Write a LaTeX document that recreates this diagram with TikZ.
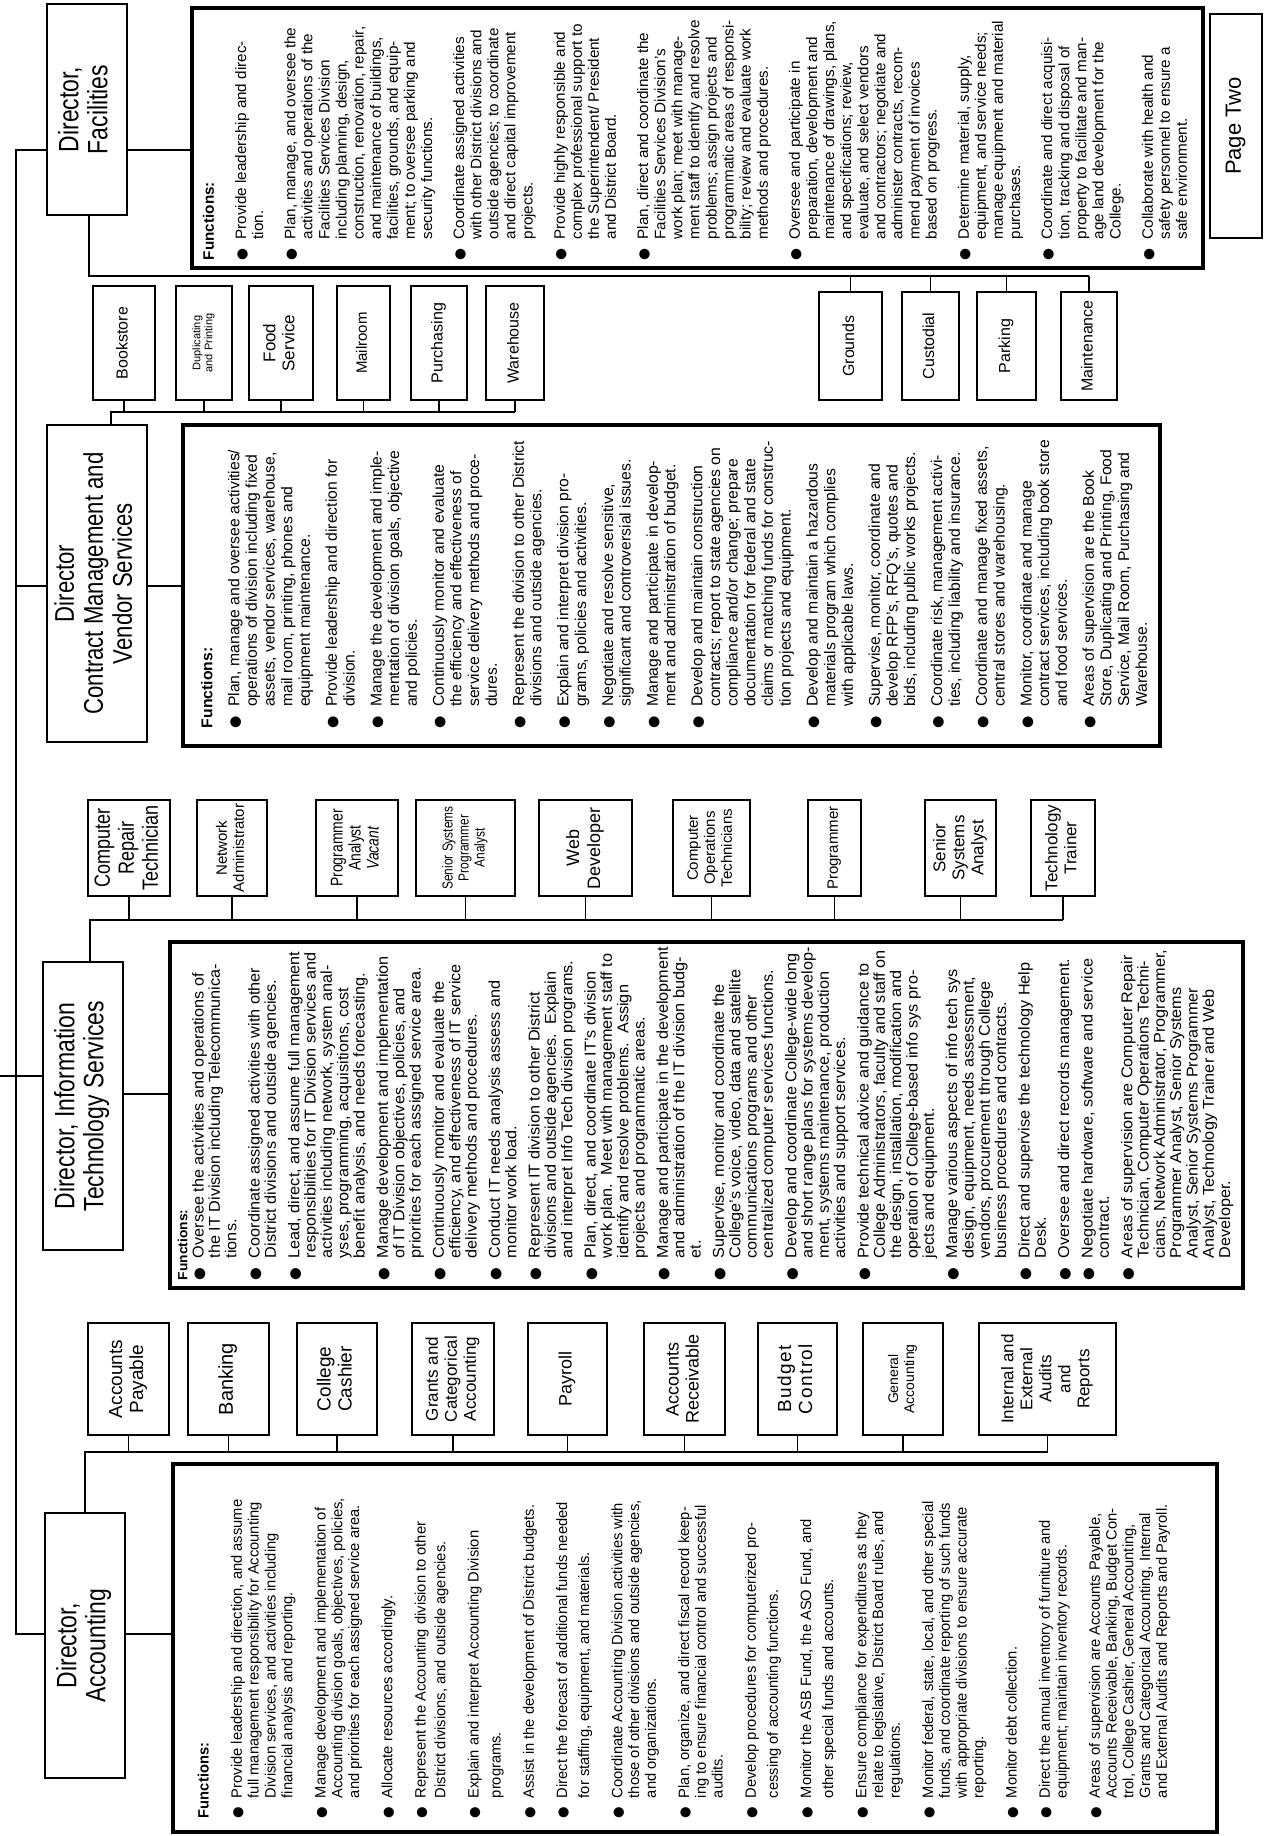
\documentclass[tikz,border=0pt]{standalone}
\usepackage{fontspec}
\usepackage{graphicx}
\setmainfont{Liberation Sans}
\newfontfamily\narrowf[FakeStretch=0.82]{Liberation Sans}
\newfontfamily\dejavu{DejaVu Sans}
\newlength\fgap
\newcommand\bul{{\dejavu\scalebox{0.9}{●}}}
\newcommand\fitem[1]{\makebox[1.35em][l]{\bul}\begin{tabular}[t]{@{}l@{}}#1\end{tabular}}
\newcommand\ig{\\\noalign{\vskip\fgap}}
\newcommand\fblock[6]{\rotatebox{90}{\resizebox*{#1}{#2}{\fontsize{#3}{#4}\selectfont\setlength\fgap{#5}\begin{tabular}{@{}l@{}}#6\end{tabular}}}}
\newcommand\rt[3]{\rotatebox{90}{\fontsize{#1}{#2}\selectfont\begin{tabular}{@{}c@{}}#3\end{tabular}}}
\newcommand\rtn[3]{\rotatebox{90}{\narrowf\fontsize{#1}{#2}\selectfont\begin{tabular}{@{}c@{}}#3\end{tabular}}}
\newcommand\bx[7]{\node[#1, minimum width={(#4)-(#2)}, minimum height={(#5)-(#3)}] (#6) at ({((#2)+(#4))/2},{((#3)+(#5))/2}) {#7};}
\begin{document}
\begin{tikzpicture}[x=1pt,y=-1pt,
  dbox/.style={draw, line width=1.2pt, inner sep=0pt, align=center},
  fbox/.style={draw, line width=4pt, inner sep=0pt},
  conn/.style={line width=1.2pt}]
\fill[white] (0,0) rectangle (1265,1836);
\useasboundingbox (0,0) rectangle (1265,1836);

% ---------- Directors ----------
\bx{dbox}{47}{4}{127}{215}{dFac}{\rtn{28}{29}{Director,\\Facilities}}
\bx{dbox}{47}{425}{147}{742}{dCon}{\rtn{27}{29}{Director\\Contract Management and\\Vendor Services}}
\bx{dbox}{43}{962}{123}{1250}{dIT}{\rtn{28}{29}{Director, Information\\Technology Services}}
\bx{dbox}{45}{1513}{125}{1778}{dAcc}{\rtn{28}{29}{Director,\\Accounting}}

% ---------- Page Two ----------
\bx{dbox}{1210}{14}{1262}{238}{pTwo}{\rt{22}{24}{Page Two}}

% ---------- Function boxes ----------
\bx{fbox}{192}{8}{1203}{268}{fFac}{}
\bx{fbox}{183}{425}{1160}{746}{fCon}{}
\bx{fbox}{170}{942}{1243}{1288}{fIT}{}
\bx{fbox}{173}{1464}{1217}{1832}{fAcc}{}

% Facilities functions
\node[inner sep=0pt] (tFac) at ({(202+1192)/2},{(20+260)/2}) {\fblock{240pt}{990pt}{10}{11.3}{10pt}{%
\textbf{Functions:}\ig
\fitem{Provide leadership and direc-\\tion.}\ig
\fitem{Plan, manage, and oversee the\\activities and operations of the\\Facilities Services Division\\including planning, design,\\construction, renovation, repair,\\and maintenance of buildings,\\facilities, grounds, and equip-\\ment; to oversee parking and\\security functions.}\ig
\fitem{Coordinate assigned activities\\with other District divisions and\\outside agencies; to coordinate\\and direct capital improvement\\projects.}\ig
\fitem{Provide highly responsible and\\complex professional support to\\the Superintendent/ President\\and District Board.}\ig
\fitem{Plan, direct and coordinate the\\Facilities Services Division's\\work plan; meet with manage-\\ment staff to identify and resolve\\problems; assign projects and\\programmatic areas of responsi-\\bility; review and evaluate work\\methods and procedures.}\ig
\fitem{Oversee and participate in\\preparation, development and\\maintenance of drawings, plans,\\and specifications; review,\\evaluate, and select vendors\\and contractors; negotiate and\\administer contracts, recom-\\mend payment of invoices\\based on progress.}\ig
\fitem{Determine material, supply,\\equipment, and service needs;\\manage equipment and material\\purchases.}\ig
\fitem{Coordinate and direct acquisi-\\tion, tracking and disposal of\\property to facilitate and man-\\age land development for the\\College.}\ig
\fitem{Collaborate with health and\\safety personnel to ensure a\\safe environment.}}};

% Contract functions
\node[inner sep=0pt] (tCon) at ({(200+1152)/2},{(440+728)/2}) {\fblock{288pt}{952pt}{10}{11.3}{6pt}{%
\textbf{Functions:}\ig
\fitem{Plan, manage and oversee activities/\\operations of division including fixed\\assets, vendor services, warehouse,\\mail room, printing, phones and\\equipment maintenance.}\ig
\fitem{Provide leadership and direction for\\division.}\ig
\fitem{Manage the development and imple-\\mentation of division goals, objective\\and policies.}\ig
\fitem{Continuously monitor and evaluate\\the efficiency and effectiveness of\\service delivery methods and proce-\\dures.}\ig
\fitem{Represent the division to other District\\divisions and outside agencies.}\ig
\fitem{Explain and interpret division pro-\\grams, policies and activities.}\ig
\fitem{Negotiate and resolve sensitive,\\significant and controversial issues.}\ig
\fitem{Manage and participate in develop-\\ment and administration of budget.}\ig
\fitem{Develop and maintain construction\\contracts; report to state agencies on\\compliance and/or change; prepare\\documentation for federal and state\\claims or matching funds for construc-\\tion projects and equipment.}\ig
\fitem{Develop and maintain a hazardous\\materials program which complies\\with applicable laws.}\ig
\fitem{Supervise, monitor, coordinate and\\develop RFP's, RFQ's, quotes and\\bids, including public works projects.}\ig
\fitem{Coordinate risk, management activi-\\ties, including liability and insurance.}\ig
\fitem{Coordinate and manage fixed assets,\\central stores and warehousing.}\ig
\fitem{Monitor, coordinate and manage\\contract services, including book store\\and food services.}\ig
\fitem{Areas of supervision are the Book\\Store, Duplicating and Printing, Food\\Service, Mail Room, Purchasing and\\Warehouse.}}};

% IT functions
\node[inner sep=0pt] (tIT) at ({(176+1235)/2},{(947+1280)/2}) {\fblock{333pt}{1059pt}{10}{10.4}{4.5pt}{%
{\fontsize{8.5}{10}\selectfont\textbf{Functions:}}\\
\fitem{Oversee the activities and operations of\\the IT Division including Telecommunica-\\tions.}\ig
\fitem{Coordinate assigned activities with other\\District divisions and outside agencies.}\ig
\fitem{Lead, direct, and assume full management\\responsibilities for IT Division services and\\activities including network, system anal-\\yses, programming, acquisitions, cost\\benefit analysis, and needs forecasting.}\ig
\fitem{Manage development and implementation\\of IT Division objectives, policies, and\\priorities for each assigned service area.}\ig
\fitem{Continuously monitor and evaluate the\\efficiency, and effectiveness of IT service\\delivery methods and procedures.}\ig
\fitem{Conduct IT needs analysis assess and\\monitor work load.}\ig
\fitem{Represent IT division to other District\\divisions and outside agencies.\ \ Explain\\and interpret Info Tech division programs.}\ig
\fitem{Plan, direct, and coordinate IT's division\\work plan.\ \ Meet with management staff to\\identify and resolve problems.\ \ Assign\\projects and programmatic areas.}\ig
\fitem{Manage and participate in the development\\and administration of the IT division budg-\\et.}\ig
\fitem{Supervise, monitor and coordinate the\\College's voice, video, data and satellite\\communications programs and other\\centralized computer services functions.}\ig
\fitem{Develop and coordinate College-wide long\\and short range plans for systems develop-\\ment, systems maintenance, production\\activities and support services.}\ig
\fitem{Provide technical advice and guidance to\\College Administrators, faculty and staff on\\the design, installation, modification and\\operation of College-based info sys pro-\\jects and equipment.}\ig
\fitem{Manage various aspects of info tech sys\\design, equipment, needs assessment,\\vendors, procurement through College\\business procedures and contracts.}\ig
\fitem{Direct and supervise the technology Help\\Desk.}\ig
\fitem{Oversee and direct records management.}\ig
\fitem{Negotiate hardware, software and service\\contract.}\ig
\fitem{Areas of supervision are Computer Repair\\Technician, Computer Operations Techni-\\cians, Network Administrator, Programmer,\\Programmer Analyst, Senior Systems\\Analyst, Senior Systems Programmer\\Analyst, Technology Trainer and Web\\Developer.}}};

% Accounting functions
\node[inner sep=0pt] (tAcc) at ({(197+1172)/2},{(1498+1818)/2}) {\fblock{320pt}{975pt}{10}{11.2}{11pt}{%
\textbf{Functions:}\ig
\fitem{Provide leadership and direction, and assume\\full management responsibility for Accounting\\Division services, and activities including\\financial analysis and reporting.}\ig
\fitem{Manage development and implementation of\\Accounting division goals, objectives, policies,\\and priorities for each assigned service area.}\ig
\fitem{Allocate resources accordingly.}\ig
\fitem{Represent the Accounting division to other\\[2pt]District divisions, and outside agencies.}\ig
\fitem{Explain and interpret Accounting Division\\[3.5pt]programs.}\ig
\fitem{Assist in the development of District budgets.}\ig
\fitem{Direct the forecast of additional funds needed\\[3.5pt]for staffing, equipment, and materials.}\ig
\fitem{Coordinate Accounting Division activities with\\those of other divisions and outside agencies,\\and organizations.}\ig
\fitem{Plan, organize, and direct fiscal record keep-\\ing to ensure financial control and successful\\audits.}\ig
\fitem{Develop procedures for computerized pro-\\[3.5pt]cessing of accounting functions.}\ig
\fitem{Monitor the ASB Fund, the ASO Fund, and\\[3.5pt]other special funds and accounts.}\ig
\fitem{Ensure compliance for expenditures as they\\relate to legislative, District Board rules, and\\regulations.}\ig
\fitem{Monitor federal, state, local, and other special\\funds, and coordinate reporting of such funds\\with appropriate divisions to ensure accurate\\reporting.}\ig
\fitem{Monitor debt collection.}\ig
\fitem{Direct the annual inventory of furniture and\\equipment; maintain inventory records.}\ig
\fitem{Areas of supervision are Accounts Payable,\\Accounts Receivable, Banking, Budget Con-\\trol, College Cashier, General Accounting,\\Grants and Categorical Accounting, Internal\\and External Audits and Reports and Payroll.}}};

% ---------- Facilities sub-units ----------
\bx{dbox}{819}{292}{882}{400}{sGro}{\rt{16}{18}{Grounds}}
\bx{dbox}{902}{292}{959}{400}{sCus}{\rt{16}{18}{Custodial}}
\bx{dbox}{977}{292}{1036}{400}{sPar}{\rt{16}{18}{Parking}}
\bx{dbox}{1061}{292}{1117}{400}{sMai}{\rt{16}{18}{Maintenance}}

% ---------- Contract sub-units ----------
\bx{dbox}{93}{286}{155}{400}{sBoo}{\rt{16}{18}{Bookstore}}
\bx{dbox}{176}{286}{232}{400}{sDup}{\rt{11}{12}{Duplicating\\and Printing}}
\bx{dbox}{249}{286}{313}{400}{sFoo}{\rt{17}{19}{Food\\Service}}
\bx{dbox}{337}{286}{390}{400}{sMal}{\rt{15}{17}{Mailroom}}
\bx{dbox}{411}{286}{467}{400}{sPur}{\rt{16}{18}{Purchasing}}
\bx{dbox}{486}{286}{544}{400}{sWar}{\rt{16}{18}{Warehouse}}

% ---------- IT sub-units ----------
\bx{dbox}{88}{800}{170}{896}{sCRT}{\rtn{22}{24}{Computer\\Repair\\Technician}}
\bx{dbox}{197}{800}{267}{896}{sNA}{\rt{15}{17}{Network\\Administrator}}
\bx{dbox}{316}{800}{398}{896}{sPAV}{\rtn{17}{18}{Programmer\\Analyst\\\textit{Vacant}}}
\bx{dbox}{416}{800}{515}{896}{sSSPA}{\rtn{14.5}{16}{Senior Systems\\Programmer\\Analyst}}
\bx{dbox}{539}{800}{632}{896}{sWD}{\rt{18}{21}{Web\\Developer}}
\bx{dbox}{673}{800}{750}{896}{sCOT}{\rt{15}{17}{Computer\\Operations\\Technicians}}
\bx{dbox}{808}{800}{861}{896}{sPro}{\rt{15}{17}{Programmer}}
\bx{dbox}{925}{800}{996}{896}{sSSA}{\rt{17}{19}{Senior\\Systems\\Analyst}}
\bx{dbox}{1031}{800}{1095}{896}{sTT}{\rt{17}{19}{Technology\\Trainer}}

% ---------- Accounting sub-units ----------
\bx{dbox}{88}{1323}{169}{1435}{sAP}{\rt{19}{21}{Accounts\\Payable}}
\bx{dbox}{188}{1323}{269}{1435}{sBan}{\rt{20}{22}{Banking}}
\bx{dbox}{297}{1323}{377}{1435}{sCC}{\rt{19}{21}{College\\Cashier}}
\bx{dbox}{412}{1323}{494}{1435}{sGCA}{\rt{17}{19}{Grants and\\Categorical\\Accounting}}
\bx{dbox}{528}{1323}{607}{1435}{sPay}{\rt{18}{20}{Payroll}}
\bx{dbox}{644}{1323}{725}{1435}{sAR}{\rt{18}{20}{Accounts\\Receivable}}
\bx{dbox}{758}{1323}{837}{1435}{sBC}{\rt{19}{21}{\addfontfeatures{LetterSpace=8}Budget\\\addfontfeatures{LetterSpace=8}Control}}
\bx{dbox}{863}{1323}{943}{1435}{sGA}{\rt{14}{16}{General\\Accounting}}
\bx{dbox}{979}{1323}{1116}{1435}{sIEA}{\rt{17}{19}{Internal and\\External\\Audits\\and\\Reports}}

% ---------- Connectors ----------
\coordinate (yFac) at (0,150);
\coordinate (yCon) at (0,586);
\coordinate (yIT) at (0,1076);
\coordinate (yITf) at (0,1094);
\coordinate (yAcc) at (0,1634);
\coordinate (busX) at (16,0);
\draw[conn] (dFac.west |- yFac) -- (busX |- yFac) -- (busX |- yAcc) -- (dAcc.west |- yAcc);
\draw[conn] (busX |- yCon) -- (dCon.west |- yCon);
\draw[conn] (yIT) -- (dIT.west |- yIT);
\draw[conn] (dFac.east |- yFac) -- (fFac.west |- yFac);
\draw[conn] (dCon.east |- yCon) -- (fCon.west |- yCon);
\draw[conn] (dIT.east |- yITf) -- (fIT.west |- yITf);
\draw[conn] (dAcc.east |- yAcc) -- (fAcc.west |- yAcc);

\coordinate (facL) at (89,276);
\draw[conn] (facL |- dFac.south) -- (facL) -- (facL -| sMai.north);
\foreach \n in {sGro,sCus,sPar,sMai} \draw[conn] (\n.north) -- (\n.north |- facL);

\coordinate (conL) at (111,412);
\draw[conn] (conL |- dCon.north) -- (conL) -- (conL -| sWar.south);
\foreach \n in {sBoo,sDup,sFoo,sMal,sPur,sWar} \draw[conn] (\n.south) -- (\n.south |- conL);

\coordinate (itL) at (90,920);
\draw[conn] (itL |- dIT.north) -- (itL) -- (itL -| sTT.south);
\foreach \n in {sCRT,sNA,sPAV,sSSPA,sWD,sCOT,sPro,sSSA,sTT} \draw[conn] (\n.south) -- (\n.south |- itL);

\coordinate (accL) at (85,1452);
\draw[conn] (accL |- dAcc.north) -- (accL) -- (accL -| sIEA.south);
\foreach \n in {sAP,sBan,sCC,sGCA,sPay,sAR,sBC,sGA,sIEA} \draw[conn] (\n.south) -- (\n.south |- accL);
\end{tikzpicture}
\end{document}
